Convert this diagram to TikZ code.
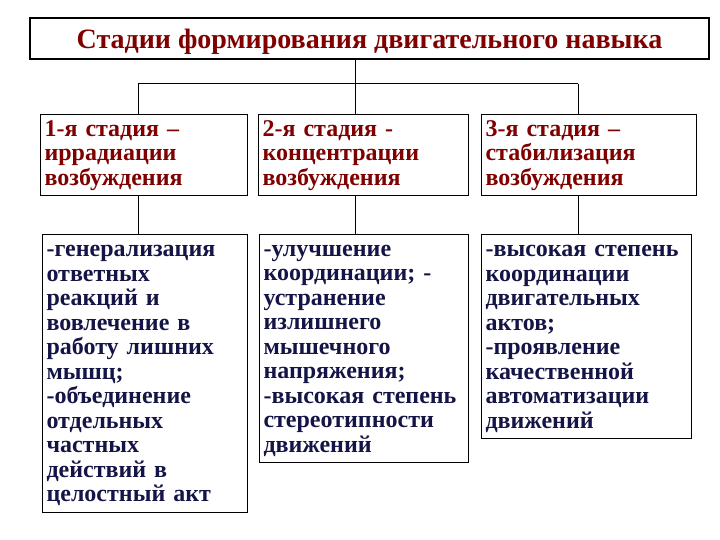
\documentclass[tikz,border=0pt]{standalone}
\usepackage{fontspec}
\setmainfont{Liberation Serif}
\definecolor{hdred}{RGB}{128,0,0}
\definecolor{bodyblue}{RGB}{20,20,70}
\begin{document}
\begin{tikzpicture}[x=1bp,y=-1bp,
  frame/.style={draw=black,line width=1.1bp,rectangle,inner xsep=4bp,inner ysep=0bp,anchor=north west,align=left,
    font=\bfseries\fontsize{24bp}{24.5bp}\selectfont,
    execute at begin node={\rule{0pt}{20bp}},
    execute at end node={\rule[-8.5bp]{0pt}{0pt}}},
  stagebox/.style={frame,text=hdred},
  bodybox/.style={frame,text=bodyblue},
  titlebox/.style={draw=black,line width=1.1bp,rectangle,inner sep=0pt,text=hdred,text height=25bp,text depth=4bp,
    font=\bfseries\fontsize{28bp}{30bp}\selectfont},
  link/.style={draw=black,line width=1bp}]
\useasboundingbox (0,0) rectangle (720,540);
\node[titlebox,minimum width=679bp,minimum height=41bp] (title) at (369.5,38.5) {Стадии формирования двигательного навыка};
\node[stagebox,text width=199bp,minimum height=81bp] (s1) at (40,114) {1-я стадия –\\иррадиации\\возбуждения};
\node[stagebox,text width=202bp,minimum height=81bp] (s2) at (258,114) {2-я стадия -\\концентрации\\возбуждения};
\node[stagebox,text width=207bp,minimum height=81bp] (s3) at (481,114) {3-я стадия –\\стабилизация\\возбуждения};
\node[bodybox,text width=197bp,minimum height=278bp] (b1) at (42,234) {-генерализация\\ответных\\реакций и\\вовлечение в\\работу лишних\\мышц;\\-объединение\\отдельных\\частных\\действий в\\целостный акт};
\node[bodybox,text width=201bp,minimum height=228bp] (b2) at (259,234) {-улучшение\\координации; -\\устранение\\излишнего\\мышечного\\напряжения;\\-высокая степень\\стереотипности\\движений};
\node[bodybox,text width=202bp,minimum height=204bp] (b3) at (481,234) {-высокая степень\\координации\\двигательных\\актов;\\-проявление\\качественной\\автоматизации\\движений};
\coordinate (j) at (355,84);
\coordinate (c1) at (138,84);
\coordinate (c3) at (578,84);
\draw[link] (title.south -| j) -- (j);
\draw[link] (c1) -- (c3);
\draw[link] (c1) -- (s1.north -| c1);
\draw[link] (j) -- (s2.north -| j);
\draw[link] (c3) -- (s3.north -| c3);
\draw[link] (s1.south -| c1) -- (b1.north -| c1);
\draw[link] (s2.south -| j) -- (b2.north -| j);
\draw[link] (s3.south -| c3) -- (b3.north -| c3);
\end{tikzpicture}
\end{document}
